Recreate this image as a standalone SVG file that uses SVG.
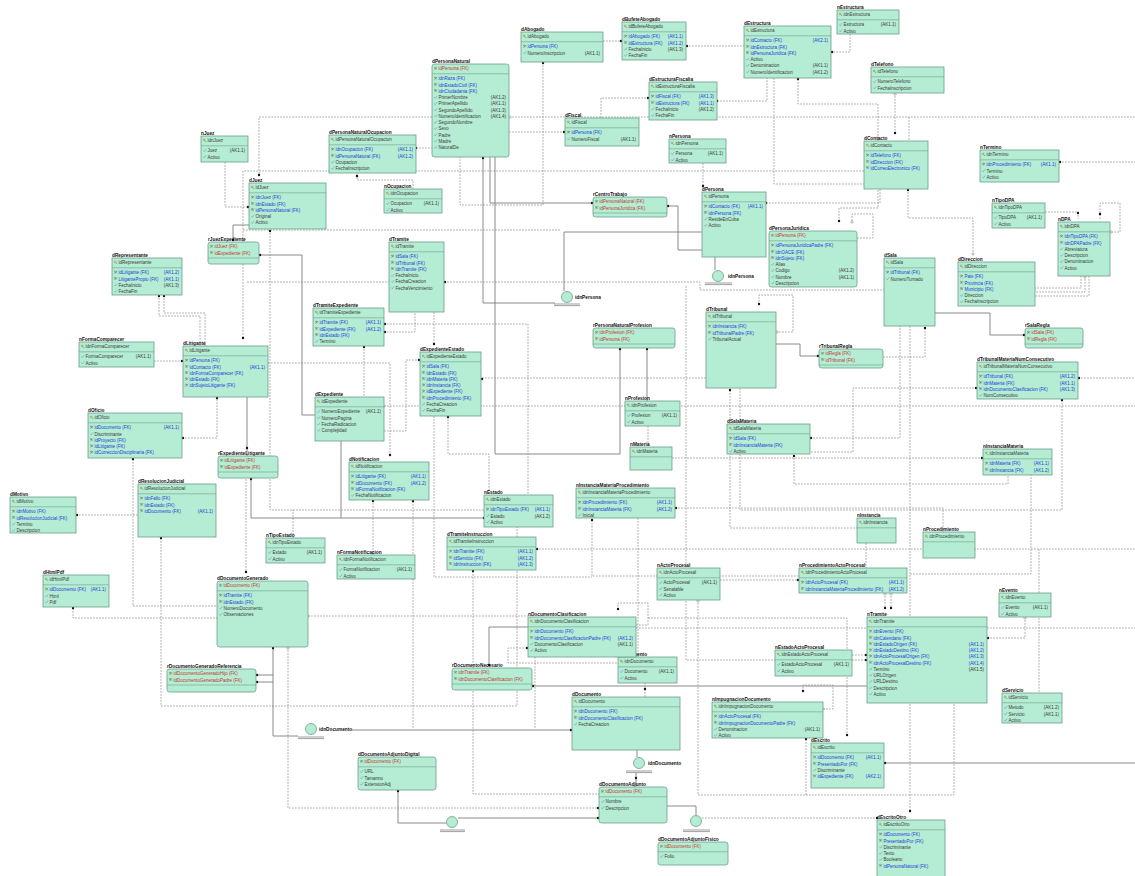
<svg xmlns="http://www.w3.org/2000/svg" xmlns:xlink="http://www.w3.org/1999/xlink" width="1135" height="876" viewBox="0 0 1135 876">
<style>
text{font-family:"Liberation Sans",Arial,sans-serif;font-size:4.5px;fill:#3b3b3b}
.l{font-weight:bold;font-size:4.75px;fill:#111}
.f{fill:#1c3fd6}
.r{fill:#c0392b}
.e{text-anchor:end}
.b{fill:#b5ecd4;stroke:#6c9f8b;stroke-width:.8}
.sp{stroke:#6c9f8b;stroke-width:.6;fill:none}
.c{fill:none;stroke:#8a8a8a;stroke-width:.7;stroke-dasharray:1.8 1.2}
.s{fill:none;stroke:#7d7d7d;stroke-width:.9}
.d{fill:#111}
.o{fill:#fff;stroke:#555;stroke-width:.4}
.bar{stroke:#777;stroke-width:.7}
</style>
<defs>
<g id="k" fill="none" stroke="#8c7d12" stroke-width=".5"><circle cx="1.1" cy="-2.6" r=".8"/><path d="M1.7-2l1.6 1.6M2.6-1.1l-.6.6"/></g>
<g id="f" fill="none" stroke-width=".5"><circle cx="1" cy="-2.7" r=".7" stroke="#7a7a2a"/><path d="M1.5-2.2l1.4 1.4" stroke="#7a7a2a"/><path d="M.5-.5l2.6-2.8" stroke="#555"/></g>
<g id="a"><path d="M.4-1.8l.9 1.2 1.9-2.6" fill="none" stroke="#5aa0d8" stroke-width=".6"/></g>
</defs>
<rect width="1135" height="876" fill="#fff"/>

<!-- relationship lines -->
<g id="connectors">
<path class="c" d="M603,41H621M686,46H744M850,34V52H831M543,62V205H460V157M432,117H259V175M509,117H1135M509,132H565M416,148H432M413,189V180H357V173M225,162V207H249M864,171H243V338M243,230H560M798,79V104H878V141M895,93V133M909,117V141M908,189V218H973V253M766,203H880V189M774,78V184H878V208H839V221M857,238H873V214H852V222M703,163V189M649,98H601V118M717,101H767V78M1059,162H1135M1045,212H1078V219M1100,219V203H1120V232H1110M1081,276V288H1035M1085,276V292H1035M1089,276V296H1035"/>
<path class="c" d="M159,295V316H200V346M164,295V313H205V346M154,361H183M268,363H390V455M182,438H217V398M270,230V510H484M293,538V510M384,332H415V312M384,324H528V495M364,346V397M434,312V344M384,431H406V360H420M384,406H1135M482,378H706M672,458H983M810,438H900V326M794,455V484H1008V475M730,390V528H857M1062,400V510H740V388M776,332H793V295H759V304M883,357H925V328M977,388H853V452H810M1078,378H1135M910,326V812M910,574H1031V475M675,508H943V532M592,520V576H799M434,416V577H592M720,580H799M638,518V657M686,286V660H775M648,426V447M536,549H1135M1039,549V693M636,628H1135M648,618H847V735M636,625H648V603H618V610M527,648H508V663H618M645,683V697M852,655H867M852,660H867M885,593V609M891,593V609M1025,617V638H987M823,709H833V685H803V692M698,600V795H954V703M806,795V739M702,818H877"/>
<path class="c" d="M373,500V553M448,416V454H489V495M246,479V572M308,616H528M161,538V706H517V527M413,501V729M473,571V794H599M288,647V808H599M73,608V618H217M133,459V606H217M76,515H138M444,282H700V290H884M247,282H389M535,657V729M866,543V568"/>
<path class="s" d="M490,157V203H593M483,157V303H555M495,157V454H620V348M564,291V232H702M667,206H678V250H702M715,257V270M249,225H233V240M259,255H302V415H315M247,397V456M341,441V518M251,479V518H484M647,349V401M776,344H800V356H819M935,313H990V335H1025M528,627H489V666M532,686H867M273,647V736H298M256,675H273M256,682H273M352,730H572M398,790V823H446M458,818H599M667,806H696V815M637,750V757M636,773V786M884,763H1135"/>
<g class="d">
<circle cx="621" cy="41" r="1.2"/><circle cx="687" cy="46" r="1.2"/><circle cx="832" cy="52" r="1.2"/><circle cx="543" cy="63" r="1.2"/><circle cx="259" cy="175" r="1.2"/><circle cx="564" cy="132" r="1.2"/><circle cx="416" cy="148" r="1.2"/><circle cx="357" cy="176" r="1.2"/><circle cx="248" cy="207" r="1.2"/><circle cx="243" cy="338" r="1.2"/><circle cx="798" cy="79" r="1.2"/><circle cx="895" cy="133" r="1.2"/><circle cx="908" cy="190" r="1.2"/><circle cx="766" cy="203" r="1.2"/><circle cx="839" cy="221" r="1.2"/><circle cx="703" cy="186" r="1.2"/><circle cx="648" cy="98" r="1.2"/><circle cx="717" cy="101" r="1.2"/><circle cx="1060" cy="162" r="1.2"/><circle cx="1078" cy="213" r="1.2"/><circle cx="1100" cy="214" r="1.2"/>
<circle cx="159" cy="296" r="1.2"/><circle cx="164" cy="296" r="1.2"/><circle cx="182" cy="361" r="1.2"/><circle cx="390" cy="455" r="1.2"/><circle cx="217" cy="398" r="1.2"/><circle cx="183" cy="438" r="1.2"/><circle cx="270" cy="231" r="1.2"/><circle cx="385" cy="332" r="1.2"/><circle cx="385" cy="324" r="1.2"/><circle cx="364" cy="347" r="1.2"/><circle cx="434" cy="344" r="1.2"/><circle cx="419" cy="360" r="1.2"/><circle cx="482" cy="379" r="1.2"/><circle cx="982" cy="458" r="1.2"/><circle cx="811" cy="438" r="1.2"/><circle cx="794" cy="456" r="1.2"/><circle cx="730" cy="390" r="1.2"/><circle cx="1062" cy="400" r="1.2"/><circle cx="759" cy="304" r="1.2"/><circle cx="925" cy="328" r="1.2"/><circle cx="976" cy="388" r="1.2"/><circle cx="1079" cy="378" r="1.2"/><circle cx="910" cy="811" r="1.2"/><circle cx="676" cy="508" r="1.2"/><circle cx="592" cy="520" r="1.2"/><circle cx="798" cy="580" r="1.2"/><circle cx="537" cy="549" r="1.2"/><circle cx="847" cy="735" r="1.2"/><circle cx="618" cy="609" r="1.2"/><circle cx="527" cy="648" r="1.2"/><circle cx="645" cy="689" r="1.2"/><circle cx="866" cy="655" r="1.2"/><circle cx="866" cy="660" r="1.2"/><circle cx="885" cy="608" r="1.2"/><circle cx="891" cy="608" r="1.2"/><circle cx="988" cy="638" r="1.2"/><circle cx="803" cy="691" r="1.2"/><circle cx="806" cy="739" r="1.2"/><circle cx="877" cy="818" r="1.2"/>
<circle cx="373" cy="501" r="1.2"/><circle cx="448" cy="417" r="1.2"/><circle cx="246" cy="572" r="1.2"/><circle cx="161" cy="538" r="1.2"/><circle cx="413" cy="501" r="1.2"/><circle cx="473" cy="571" r="1.2"/><circle cx="598" cy="808" r="1.2"/><circle cx="73" cy="608" r="1.2"/><circle cx="133" cy="459" r="1.2"/><circle cx="77" cy="515" r="1.2"/><circle cx="445" cy="282" r="1.2"/>
<circle cx="592" cy="203" r="1.2"/><circle cx="483" cy="158" r="1.2"/><circle cx="620" cy="349" r="1.2"/><circle cx="668" cy="206" r="1.2"/><circle cx="233" cy="240" r="1.2"/><circle cx="260" cy="255" r="1.2"/><circle cx="247" cy="448" r="1.2"/><circle cx="251" cy="479" r="1.2"/><circle cx="484" cy="518" r="1.2"/><circle cx="647" cy="349" r="1.2"/><circle cx="818" cy="356" r="1.2"/><circle cx="1024" cy="335" r="1.2"/><circle cx="489" cy="665" r="1.2"/><circle cx="533" cy="686" r="1.2"/><circle cx="273" cy="648" r="1.2"/><circle cx="257" cy="675" r="1.2"/><circle cx="257" cy="682" r="1.2"/><circle cx="571" cy="730" r="1.2"/><circle cx="398" cy="791" r="1.2"/><circle cx="598" cy="818" r="1.2"/><circle cx="636" cy="778" r="1.2"/><circle cx="885" cy="763" r="1.2"/>
</g>
<g class="o">
<circle cx="510" cy="117" r="1.2"/><circle cx="895" cy="94" r="1.2"/><circle cx="973" cy="254" r="1.2"/><circle cx="852" cy="222" r="1.2"/><circle cx="1111" cy="232" r="1.2"/><circle cx="1085" cy="277" r="1.2"/><circle cx="384" cy="406" r="1.2"/><circle cx="777" cy="332" r="1.2"/><circle cx="885" cy="594" r="1.2"/><circle cx="891" cy="594" r="1.2"/><circle cx="1025" cy="618" r="1.2"/><circle cx="823" cy="709" r="1.2"/><circle cx="698" cy="601" r="1.2"/><circle cx="373" cy="553" r="1.2"/><circle cx="308" cy="616" r="1.2"/><circle cx="288" cy="648" r="1.2"/>
</g>
</g>

<!-- subtype discriminators -->
<g id="subtypes">
<circle class="b" cx="567" cy="297" r="5.5"/><path class="bar" d="M554,304H580M554,305.6H580"/><text class="l" x="575" y="299">idnPersona</text>
<circle class="b" cx="718" cy="276" r="5.5"/><path class="bar" d="M705,283H732M705,284.6H732"/><text class="l" x="728" y="278">idnPersona</text>
<circle class="b" cx="311" cy="729" r="5.5"/><path class="bar" d="M298,737H324M298,738.6H324"/><text class="l" x="319" y="731">idnDocumento</text>
<circle class="b" cx="639" cy="763" r="5.5"/><path class="bar" d="M626,771H652M626,772.6H652"/><text class="l" x="648" y="765">idnDocumento</text>
<circle class="b" cx="452" cy="822" r="5.5"/><path class="bar" d="M440,830H465M440,831.6H465"/>
<circle class="b" cx="696" cy="821" r="5.5"/><path class="bar" d="M683,830H710M683,831.6H710"/>
</g>

<!-- entities -->
<g id="nJuez" transform="translate(201,136)"><text class="l" y="-1.5">nJuez</text><rect class="b" width="47" height="26"/><path class="sp" d="M0 9.8H47"/>
<use href="#k" x="2" y="6.4"/><text x="6.5" y="6.4">idnJuez</text>
<use href="#a" x="2" y="16.2"/><text x="6.5" y="16.2">Juez</text><text class="e" x="44" y="16.2">(AK1.1)</text>
<use href="#a" x="2" y="22.5"/><text x="6.5" y="22.5">Activo</text></g>

<g id="dJuez" transform="translate(249,183)"><text class="l" y="-1.5">dJuez</text><rect class="b" width="77" height="46"/><path class="sp" d="M0 9.8H77"/>
<use href="#k" x="2" y="6.4"/><text x="6.5" y="6.4">idJuez</text>
<use href="#f" x="2" y="16.2"/><text class="f" x="6.5" y="16.2">idnJuez (FK)</text>
<use href="#f" x="2" y="22.5"/><text class="f" x="6.5" y="22.5">idnEstado (FK)</text>
<use href="#f" x="2" y="28.7"/><text class="f" x="6.5" y="28.7">idPersonaNatural (FK)</text>
<use href="#a" x="2" y="35"/><text x="6.5" y="35">Original</text>
<use href="#a" x="2" y="41.2"/><text x="6.5" y="41.2">Activo</text></g>

<g id="rJuezExpediente" transform="translate(208,242)"><text class="l" y="-1.5">rJuezExpediente</text><rect class="b" width="51" height="22" rx="2.5"/><path class="sp" d="M0 16H51"/>
<use href="#f" x="2" y="6.4"/><text class="r" x="6.5" y="6.4">idJuez (FK)</text>
<use href="#f" x="2" y="12.6"/><text class="r" x="6.5" y="12.6">idExpediente (FK)</text></g>

<g id="dRepresentante" transform="translate(112,258)"><text class="l" y="-1.5">dRepresentante</text><rect class="b" width="70" height="37"/><path class="sp" d="M0 9.8H70"/>
<use href="#k" x="2" y="6.4"/><text x="6.5" y="6.4">idRepresentante</text>
<use href="#f" x="2" y="16.2"/><text class="f" x="6.5" y="16.2">idLitigante (FK)</text><text class="e f" x="67" y="16.2">(AK1.2)</text>
<use href="#f" x="2" y="22.5"/><text class="f" x="6.5" y="22.5">LitigantePropio (FK)</text><text class="e f" x="67" y="22.5">(AK1.1)</text>
<use href="#a" x="2" y="28.7"/><text x="6.5" y="28.7">FechaInicio</text><text class="e" x="67" y="28.7">(AK1.3)</text>
<use href="#a" x="2" y="35"/><text x="6.5" y="35">FechaFin</text></g>

<g id="dAbogado" transform="translate(521,32)"><text class="l" y="-1.5">dAbogado</text><rect class="b" width="82" height="30"/><path class="sp" d="M0 9.8H82"/>
<use href="#k" x="2" y="6.4"/><text x="6.5" y="6.4">idAbogado</text>
<use href="#f" x="2" y="16.2"/><text class="f" x="6.5" y="16.2">idPersona (FK)</text>
<use href="#a" x="2" y="22.5"/><text x="6.5" y="22.5">NumeroInscripcion</text><text class="e" x="79" y="22.5">(AK1.1)</text></g>

<g id="dPersonaNatural" transform="translate(432,64)"><text class="l" y="-1.5">dPersonaNatural</text><rect class="b" width="77" height="93" rx="2.5"/><path class="sp" d="M0 9.8H77"/>
<use href="#f" x="2" y="6.4"/><text class="r" x="6.5" y="6.4">idPersona (FK)</text>
<use href="#f" x="2" y="16.2"/><text class="f" x="6.5" y="16.2">idnRaza (FK)</text>
<use href="#f" x="2" y="22.5"/><text class="f" x="6.5" y="22.5">idnEstadoCivil (FK)</text>
<use href="#f" x="2" y="28.7"/><text class="f" x="6.5" y="28.7">idnCiudadania (FK)</text>
<use href="#a" x="2" y="35"/><text x="6.5" y="35">PrimerNombre</text><text class="e" x="74" y="35">(AK1.2)</text>
<use href="#a" x="2" y="41.2"/><text x="6.5" y="41.2">PrimerApellido</text><text class="e" x="74" y="41.2">(AK1.1)</text>
<use href="#a" x="2" y="47.5"/><text x="6.5" y="47.5">SegundoApellido</text><text class="e" x="74" y="47.5">(AK1.3)</text>
<use href="#a" x="2" y="53.7"/><text x="6.5" y="53.7">NumeroIdentificacion</text><text class="e" x="74" y="53.7">(AK1.4)</text>
<use href="#a" x="2" y="60"/><text x="6.5" y="60">SegundoNombre</text>
<use href="#a" x="2" y="66.2"/><text x="6.5" y="66.2">Sexo</text>
<use href="#a" x="2" y="72.5"/><text x="6.5" y="72.5">Padre</text>
<use href="#a" x="2" y="78.7"/><text x="6.5" y="78.7">Madre</text>
<use href="#a" x="2" y="85"/><text x="6.5" y="85">NaturalDe</text></g>

<g id="dPersonaNaturalOcupacion" transform="translate(329,135)"><text class="l" y="-1.5">dPersonaNaturalOcupacion</text><rect class="b" width="87" height="38"/><path class="sp" d="M0 9.8H87"/>
<use href="#k" x="2" y="6.4"/><text x="6.5" y="6.4">idPersonaNaturalOcupacion</text>
<use href="#f" x="2" y="16.2"/><text class="f" x="6.5" y="16.2">idnOcupacion (FK)</text><text class="e f" x="84" y="16.2">(AK1.1)</text>
<use href="#f" x="2" y="22.5"/><text class="f" x="6.5" y="22.5">idPersonaNatural (FK)</text><text class="e f" x="84" y="22.5">(AK1.2)</text>
<use href="#a" x="2" y="28.7"/><text x="6.5" y="28.7">Ocupacion</text>
<use href="#a" x="2" y="35"/><text x="6.5" y="35">FechaInscripcion</text></g>

<g id="nOcupacion" transform="translate(384,189)"><text class="l" y="-1.5">nOcupacion</text><rect class="b" width="58" height="24"/><path class="sp" d="M0 9.8H58"/>
<use href="#k" x="2" y="6.4"/><text x="6.5" y="6.4">idnOcupacion</text>
<use href="#a" x="2" y="16.2"/><text x="6.5" y="16.2">Ocupacion</text><text class="e" x="55" y="16.2">(AK1.1)</text>
<use href="#a" x="2" y="22.5"/><text x="6.5" y="22.5">Activo</text></g>

<g id="dTramite" transform="translate(389,242)"><text class="l" y="-1.5">dTramite</text><rect class="b" width="55" height="70"/><path class="sp" d="M0 9.8H55"/>
<use href="#k" x="2" y="6.4"/><text x="6.5" y="6.4">idTramite</text>
<use href="#f" x="2" y="16.2"/><text class="f" x="6.5" y="16.2">idSala (FK)</text>
<use href="#f" x="2" y="22.5"/><text class="f" x="6.5" y="22.5">idTribunal (FK)</text>
<use href="#f" x="2" y="28.7"/><text class="f" x="6.5" y="28.7">idnTramite (FK)</text>
<use href="#a" x="2" y="35"/><text x="6.5" y="35">FechaInicio</text>
<use href="#a" x="2" y="41.2"/><text x="6.5" y="41.2">FechaCreacion</text>
<use href="#a" x="2" y="47.5"/><text x="6.5" y="47.5">FechaVencimiento</text></g>

<g id="dBufeteAbogado" transform="translate(622,22)"><text class="l" y="-1.5">dBufeteAbogado</text><rect class="b" width="64" height="38"/><path class="sp" d="M0 9.8H64"/>
<use href="#k" x="2" y="6.4"/><text x="6.5" y="6.4">idBufeteAbogado</text>
<use href="#f" x="2" y="16.2"/><text class="f" x="6.5" y="16.2">idAbogado (FK)</text><text class="e f" x="61" y="16.2">(AK1.1)</text>
<use href="#f" x="2" y="22.5"/><text class="f" x="6.5" y="22.5">idEstructura (FK)</text><text class="e f" x="61" y="22.5">(AK1.2)</text>
<use href="#a" x="2" y="28.7"/><text x="6.5" y="28.7">FechaInicio</text><text class="e" x="61" y="28.7">(AK1.3)</text>
<use href="#a" x="2" y="35"/><text x="6.5" y="35">FechaFin</text></g>

<g id="dEstructura" transform="translate(744,26)"><text class="l" y="-1.5">dEstructura</text><rect class="b" width="87" height="52"/><path class="sp" d="M0 9.8H87"/>
<use href="#k" x="2" y="6.4"/><text x="6.5" y="6.4">idEstructura</text>
<use href="#f" x="2" y="16.2"/><text class="f" x="6.5" y="16.2">idContacto (FK)</text><text class="e f" x="84" y="16.2">(AK2.1)</text>
<use href="#f" x="2" y="22.5"/><text class="f" x="6.5" y="22.5">idnEstructura (FK)</text>
<use href="#f" x="2" y="28.7"/><text class="f" x="6.5" y="28.7">idPersonaJuridica (FK)</text>
<use href="#a" x="2" y="35"/><text x="6.5" y="35">Activo</text>
<use href="#a" x="2" y="41.2"/><text x="6.5" y="41.2">Denominacion</text><text class="e" x="84" y="41.2">(AK1.1)</text>
<use href="#a" x="2" y="47.5"/><text x="6.5" y="47.5">NumeroIdentificacion</text><text class="e" x="84" y="47.5">(AK1.2)</text></g>

<g id="nEstructura" transform="translate(837,10)"><text class="l" y="-1.5">nEstructura</text><rect class="b" width="62" height="24"/><path class="sp" d="M0 9.8H62"/>
<use href="#k" x="2" y="6.4"/><text x="6.5" y="6.4">idnEstructura</text>
<use href="#a" x="2" y="16.2"/><text x="6.5" y="16.2">Estructura</text><text class="e" x="59" y="16.2">(AK1.1)</text>
<use href="#a" x="2" y="22.5"/><text x="6.5" y="22.5">Activo</text></g>

<g id="dEstructuraFiscalia" transform="translate(649,82)"><text class="l" y="-1.5">dEstructuraFiscalia</text><rect class="b" width="68" height="38"/><path class="sp" d="M0 9.8H68"/>
<use href="#k" x="2" y="6.4"/><text x="6.5" y="6.4">idEstructuraFiscalia</text>
<use href="#f" x="2" y="16.2"/><text class="f" x="6.5" y="16.2">idFiscal (FK)</text><text class="e f" x="65" y="16.2">(AK1.3)</text>
<use href="#f" x="2" y="22.5"/><text class="f" x="6.5" y="22.5">idEstructura (FK)</text><text class="e f" x="65" y="22.5">(AK1.1)</text>
<use href="#a" x="2" y="28.7"/><text x="6.5" y="28.7">FechaInicio</text><text class="e" x="65" y="28.7">(AK1.2)</text>
<use href="#a" x="2" y="35"/><text x="6.5" y="35">FechaFin</text></g>

<g id="dFiscal" transform="translate(565,118)"><text class="l" y="-1.5">dFiscal</text><rect class="b" width="74" height="28"/><path class="sp" d="M0 9.8H74"/>
<use href="#k" x="2" y="6.4"/><text x="6.5" y="6.4">idFiscal</text>
<use href="#f" x="2" y="16.2"/><text class="f" x="6.5" y="16.2">idPersona (FK)</text>
<use href="#a" x="2" y="22.5"/><text x="6.5" y="22.5">NumeroFiscal</text><text class="e" x="71" y="22.5">(AK1.1)</text></g>

<g id="nPersona" transform="translate(669,139)"><text class="l" y="-1.5">nPersona</text><rect class="b" width="57" height="24"/><path class="sp" d="M0 9.8H57"/>
<use href="#k" x="2" y="6.4"/><text x="6.5" y="6.4">idnPersona</text>
<use href="#a" x="2" y="16.2"/><text x="6.5" y="16.2">Persona</text><text class="e" x="54" y="16.2">(AK1.1)</text>
<use href="#a" x="2" y="22.5"/><text x="6.5" y="22.5">Activo</text></g>

<g id="rCentroTrabajo" transform="translate(593,197)"><text class="l" y="-1.5">rCentroTrabajo</text><rect class="b" width="74" height="20" rx="2.5"/><path class="sp" d="M0 16H74"/>
<use href="#f" x="2" y="6.4"/><text class="r" x="6.5" y="6.4">idPersonaNatural (FK)</text>
<use href="#f" x="2" y="12.6"/><text class="r" x="6.5" y="12.6">idPersonaJuridica (FK)</text></g>

<g id="dPersona" transform="translate(702,192)"><text class="l" y="-1.5">dPersona</text><rect class="b" width="64" height="65"/><path class="sp" d="M0 9.8H64"/>
<use href="#k" x="2" y="6.4"/><text x="6.5" y="6.4">idPersona</text>
<use href="#f" x="2" y="16.2"/><text class="f" x="6.5" y="16.2">idContacto (FK)</text><text class="e f" x="61" y="16.2">(AK1.1)</text>
<use href="#f" x="2" y="22.5"/><text class="f" x="6.5" y="22.5">idnPersona (FK)</text>
<use href="#a" x="2" y="28.7"/><text x="6.5" y="28.7">ResideEnCuba</text>
<use href="#a" x="2" y="35"/><text x="6.5" y="35">Activo</text></g>

<g id="dPersonaJuridica" transform="translate(769,231)"><text class="l" y="-1.5">dPersonaJuridica</text><rect class="b" width="88" height="56" rx="2.5"/><path class="sp" d="M0 9.8H88"/>
<use href="#f" x="2" y="6.4"/><text class="r" x="6.5" y="6.4">idPersona (FK)</text>
<use href="#f" x="2" y="16.2"/><text class="f" x="6.5" y="16.2">idPersonaJuridicaPadre (FK)</text>
<use href="#f" x="2" y="22.5"/><text class="f" x="6.5" y="22.5">idnOACE (FK)</text>
<use href="#f" x="2" y="28.7"/><text class="f" x="6.5" y="28.7">idnSujeto (FK)</text>
<use href="#a" x="2" y="35"/><text x="6.5" y="35">Alias</text>
<use href="#a" x="2" y="41.2"/><text x="6.5" y="41.2">Codigo</text><text class="e" x="85" y="41.2">(AK1.2)</text>
<use href="#a" x="2" y="47.5"/><text x="6.5" y="47.5">Nombre</text><text class="e" x="85" y="47.5">(AK1.1)</text>
<use href="#a" x="2" y="53.7"/><text x="6.5" y="53.7">Descripcion</text></g>

<g id="dTelefono" transform="translate(871,67)"><text class="l" y="-1.5">dTelefono</text><rect class="b" width="73" height="26"/><path class="sp" d="M0 9.8H73"/>
<use href="#k" x="2" y="6.4"/><text x="6.5" y="6.4">idTelefono</text>
<use href="#a" x="2" y="16.2"/><text x="6.5" y="16.2">NumeroTelefono</text>
<use href="#a" x="2" y="22.5"/><text x="6.5" y="22.5">FechaInscripcion</text></g>

<g id="dContacto" transform="translate(864,141)"><text class="l" y="-1.5">dContacto</text><rect class="b" width="64" height="48"/><path class="sp" d="M0 9.8H64"/>
<use href="#k" x="2" y="6.4"/><text x="6.5" y="6.4">idContacto</text>
<use href="#f" x="2" y="16.2"/><text class="f" x="6.5" y="16.2">idTelefono (FK)</text>
<use href="#f" x="2" y="22.5"/><text class="f" x="6.5" y="22.5">idDireccion (FK)</text>
<use href="#f" x="2" y="28.7"/><text class="f" x="6.5" y="28.7">idCorreoElectronico (FK)</text></g>

<g id="nTermino" transform="translate(980,150)"><text class="l" y="-1.5">nTermino</text><rect class="b" width="79" height="32"/><path class="sp" d="M0 9.8H79"/>
<use href="#k" x="2" y="6.4"/><text x="6.5" y="6.4">idnTermino</text>
<use href="#f" x="2" y="16.2"/><text class="f" x="6.5" y="16.2">idnProcedimiento (FK)</text><text class="e f" x="76" y="16.2">(AK1.1)</text>
<use href="#a" x="2" y="22.5"/><text x="6.5" y="22.5">Termino</text>
<use href="#a" x="2" y="28.7"/><text x="6.5" y="28.7">Activo</text></g>

<g id="nTipoDPA" transform="translate(992,203)"><text class="l" y="-1.5">nTipoDPA</text><rect class="b" width="53" height="25"/><path class="sp" d="M0 9.8H53"/>
<use href="#k" x="2" y="6.4"/><text x="6.5" y="6.4">idnTipoDPA</text>
<use href="#a" x="2" y="16.2"/><text x="6.5" y="16.2">TipoDPA</text><text class="e" x="50" y="16.2">(AK1.1)</text>
<use href="#a" x="2" y="22.5"/><text x="6.5" y="22.5">Activo</text></g>

<g id="nDPA" transform="translate(1058,222)"><text class="l" y="-1.5">nDPA</text><rect class="b" width="52" height="54"/><path class="sp" d="M0 9.8H52"/>
<use href="#k" x="2" y="6.4"/><text x="6.5" y="6.4">idnDPA</text>
<use href="#f" x="2" y="16.2"/><text class="f" x="6.5" y="16.2">idnTipoDPA (FK)</text>
<use href="#f" x="2" y="22.5"/><text class="f" x="6.5" y="22.5">idnDPAPadre (FK)</text>
<use href="#a" x="2" y="28.7"/><text x="6.5" y="28.7">Abreviatura</text>
<use href="#a" x="2" y="35"/><text x="6.5" y="35">Descripcion</text>
<use href="#a" x="2" y="41.2"/><text x="6.5" y="41.2">Denominacion</text>
<use href="#a" x="2" y="47.5"/><text x="6.5" y="47.5">Activo</text></g>

<g id="dSala" transform="translate(884,258)"><text class="l" y="-1.5">dSala</text><rect class="b" width="51" height="68"/><path class="sp" d="M0 9.8H51"/>
<use href="#k" x="2" y="6.4"/><text x="6.5" y="6.4">idSala</text>
<use href="#f" x="2" y="16.2"/><text class="f" x="6.5" y="16.2">idTribunal (FK)</text>
<use href="#a" x="2" y="22.5"/><text x="6.5" y="22.5">NumeroTurnado</text></g>

<g id="dDireccion" transform="translate(958,262)"><text class="l" y="-1.5">dDireccion</text><rect class="b" width="77" height="44"/><path class="sp" d="M0 9.8H77"/>
<use href="#k" x="2" y="6.4"/><text x="6.5" y="6.4">idDireccion</text>
<use href="#f" x="2" y="16.2"/><text class="f" x="6.5" y="16.2">Pais (FK)</text>
<use href="#f" x="2" y="22.5"/><text class="f" x="6.5" y="22.5">Provincia (FK)</text>
<use href="#f" x="2" y="28.7"/><text class="f" x="6.5" y="28.7">Municipio (FK)</text>
<use href="#a" x="2" y="35"/><text x="6.5" y="35">Direccion</text>
<use href="#a" x="2" y="41.2"/><text x="6.5" y="41.2">FechaInscripcion</text></g>

<g id="nFormaComparecer" transform="translate(79,342)"><text class="l" y="-1.5">nFormaComparecer</text><rect class="b" width="75" height="25"/><path class="sp" d="M0 9.8H75"/>
<use href="#k" x="2" y="6.4"/><text x="6.5" y="6.4">idnFormaComparecer</text>
<use href="#a" x="2" y="16.2"/><text x="6.5" y="16.2">FormaComparecer</text><text class="e" x="72" y="16.2">(AK1.1)</text>
<use href="#a" x="2" y="22.5"/><text x="6.5" y="22.5">Activo</text></g>

<g id="dLitigante" transform="translate(183,346)"><text class="l" y="-1.5">dLitigante</text><rect class="b" width="85" height="51"/><path class="sp" d="M0 9.8H85"/>
<use href="#k" x="2" y="6.4"/><text x="6.5" y="6.4">idLitigante</text>
<use href="#f" x="2" y="16.2"/><text class="f" x="6.5" y="16.2">idPersona (FK)</text>
<use href="#f" x="2" y="22.5"/><text class="f" x="6.5" y="22.5">idContacto (FK)</text><text class="e f" x="82" y="22.5">(AK1.1)</text>
<use href="#f" x="2" y="28.7"/><text class="f" x="6.5" y="28.7">idnFormaComparecer (FK)</text>
<use href="#f" x="2" y="35"/><text class="f" x="6.5" y="35">idnEstado (FK)</text>
<use href="#f" x="2" y="41.2"/><text class="f" x="6.5" y="41.2">idnSujetoLitigante (FK)</text></g>

<g id="dOficio" transform="translate(88,413)"><text class="l" y="-1.5">dOficio</text><rect class="b" width="94" height="45"/><path class="sp" d="M0 9.8H94"/>
<use href="#k" x="2" y="6.4"/><text x="6.5" y="6.4">idOficio</text>
<use href="#f" x="2" y="16.2"/><text class="f" x="6.5" y="16.2">idDocumento (FK)</text><text class="e f" x="91" y="16.2">(AK1.1)</text>
<use href="#a" x="2" y="22.5"/><text x="6.5" y="22.5">Discriminante</text>
<use href="#f" x="2" y="28.7"/><text class="f" x="6.5" y="28.7">idProyecto (FK)</text>
<use href="#f" x="2" y="35"/><text class="f" x="6.5" y="35">idLitigante (FK)</text>
<use href="#f" x="2" y="41.2"/><text class="f" x="6.5" y="41.2">idCorreccionDisciplinaria (FK)</text></g>

<g id="rExpedienteLitigante" transform="translate(218,456)"><text class="l" y="-1.5">rExpedienteLitigante</text><rect class="b" width="60" height="22" rx="2.5"/><path class="sp" d="M0 16H60"/>
<use href="#f" x="2" y="6.4"/><text class="r" x="6.5" y="6.4">idLitigante (FK)</text>
<use href="#f" x="2" y="12.6"/><text class="r" x="6.5" y="12.6">idExpediente (FK)</text></g>

<g id="dResolucionJudicial" transform="translate(138,484)"><text class="l" y="-1.5">dResolucionJudicial</text><rect class="b" width="78" height="53"/><path class="sp" d="M0 9.8H78"/>
<use href="#k" x="2" y="6.4"/><text x="6.5" y="6.4">idResolucionJudicial</text>
<use href="#f" x="2" y="16.2"/><text class="f" x="6.5" y="16.2">idnFallo (FK)</text>
<use href="#f" x="2" y="22.5"/><text class="f" x="6.5" y="22.5">idnEstado (FK)</text>
<use href="#f" x="2" y="28.7"/><text class="f" x="6.5" y="28.7">idDocumento (FK)</text><text class="e f" x="75" y="28.7">(AK1.1)</text></g>

<g id="dMotivo" transform="translate(10,497)"><text class="l" y="-1.5">dMotivo</text><rect class="b" width="66" height="36"/><path class="sp" d="M0 9.8H66"/>
<use href="#k" x="2" y="6.4"/><text x="6.5" y="6.4">idMotivo</text>
<use href="#f" x="2" y="16.2"/><text class="f" x="6.5" y="16.2">idnMotivo (FK)</text>
<use href="#f" x="2" y="22.5"/><text class="f" x="6.5" y="22.5">idResolucionJudicial (FK)</text>
<use href="#a" x="2" y="28.7"/><text x="6.5" y="28.7">Termino</text>
<use href="#a" x="2" y="35"/><text x="6.5" y="35">Descripcion</text></g>

<g id="nTipoEstado" transform="translate(266,538)"><text class="l" y="-1.5">nTipoEstado</text><rect class="b" width="59" height="25"/><path class="sp" d="M0 9.8H59"/>
<use href="#k" x="2" y="6.4"/><text x="6.5" y="6.4">idnTipoEstado</text>
<use href="#a" x="2" y="16.2"/><text x="6.5" y="16.2">Estado</text><text class="e" x="56" y="16.2">(AK1.1)</text>
<use href="#a" x="2" y="22.5"/><text x="6.5" y="22.5">Activo</text></g>

<g id="dHtmlPdf" transform="translate(43,575)"><text class="l" y="-1.5">dHtmlPdf</text><rect class="b" width="66" height="32"/><path class="sp" d="M0 9.8H66"/>
<use href="#k" x="2" y="6.4"/><text x="6.5" y="6.4">idHtmlPdf</text>
<use href="#f" x="2" y="16.2"/><text class="f" x="6.5" y="16.2">idDocumento (FK)</text><text class="e f" x="63" y="16.2">(AK1.1)</text>
<use href="#a" x="2" y="22.5"/><text x="6.5" y="22.5">Html</text>
<use href="#a" x="2" y="28.7"/><text x="6.5" y="28.7">Pdf</text></g>

<g id="dDocumentoGenerado" transform="translate(217,581)"><text class="l" y="-1.5">dDocumentoGenerado</text><rect class="b" width="91" height="66" rx="2.5"/><path class="sp" d="M0 9.8H91"/>
<use href="#f" x="2" y="6.4"/><text class="r" x="6.5" y="6.4">idDocumento (FK)</text>
<use href="#f" x="2" y="16.2"/><text class="f" x="6.5" y="16.2">idTramite (FK)</text>
<use href="#f" x="2" y="22.5"/><text class="f" x="6.5" y="22.5">idnEstado (FK)</text>
<use href="#a" x="2" y="28.7"/><text x="6.5" y="28.7">NumeroDocumento</text>
<use href="#a" x="2" y="35"/><text x="6.5" y="35">Observaciones</text></g>

<g id="dTramiteExpediente" transform="translate(313,308)"><text class="l" y="-1.5">dTramiteExpediente</text><rect class="b" width="71" height="38"/><path class="sp" d="M0 9.8H71"/>
<use href="#k" x="2" y="6.4"/><text x="6.5" y="6.4">idTramiteExpediente</text>
<use href="#f" x="2" y="16.2"/><text class="f" x="6.5" y="16.2">idTramite (FK)</text><text class="e f" x="68" y="16.2">(AK1.1)</text>
<use href="#f" x="2" y="22.5"/><text class="f" x="6.5" y="22.5">idExpediente (FK)</text><text class="e f" x="68" y="22.5">(AK1.2)</text>
<use href="#f" x="2" y="28.7"/><text class="f" x="6.5" y="28.7">idnEstado (FK)</text>
<use href="#a" x="2" y="35"/><text x="6.5" y="35">Termino</text></g>

<g id="dExpedienteEstado" transform="translate(420,352)"><text class="l" y="-1.5">dExpedienteEstado</text><rect class="b" width="61" height="64"/><path class="sp" d="M0 9.8H61"/>
<use href="#k" x="2" y="6.4"/><text x="6.5" y="6.4">idExpedienteEstado</text>
<use href="#f" x="2" y="16.2"/><text class="f" x="6.5" y="16.2">idSala (FK)</text>
<use href="#f" x="2" y="22.5"/><text class="f" x="6.5" y="22.5">idnEstado (FK)</text>
<use href="#f" x="2" y="28.7"/><text class="f" x="6.5" y="28.7">idnMateria (FK)</text>
<use href="#f" x="2" y="35"/><text class="f" x="6.5" y="35">idnInstancia (FK)</text>
<use href="#f" x="2" y="41.2"/><text class="f" x="6.5" y="41.2">idExpediente (FK)</text>
<use href="#f" x="2" y="47.5"/><text class="f" x="6.5" y="47.5">idnProcedimiento (FK)</text>
<use href="#a" x="2" y="53.7"/><text x="6.5" y="53.7">FechaCreacion</text>
<use href="#a" x="2" y="60"/><text x="6.5" y="60">FechaFin</text></g>

<g id="dExpediente" transform="translate(315,397)"><text class="l" y="-1.5">dExpediente</text><rect class="b" width="69" height="44"/><path class="sp" d="M0 9.8H69"/>
<use href="#k" x="2" y="6.4"/><text x="6.5" y="6.4">idExpediente</text>
<use href="#a" x="2" y="16.2"/><text x="6.5" y="16.2">NumeroExpediente</text><text class="e" x="66" y="16.2">(AK1.1)</text>
<use href="#a" x="2" y="22.5"/><text x="6.5" y="22.5">NumeroPagina</text>
<use href="#a" x="2" y="28.7"/><text x="6.5" y="28.7">FechaRadicacion</text>
<use href="#a" x="2" y="35"/><text x="6.5" y="35">Complejidad</text></g>

<g id="dNotificacion" transform="translate(349,462)"><text class="l" y="-1.5">dNotificacion</text><rect class="b" width="80" height="38"/><path class="sp" d="M0 9.8H80"/>
<use href="#k" x="2" y="6.4"/><text x="6.5" y="6.4">idNotificacion</text>
<use href="#f" x="2" y="16.2"/><text class="f" x="6.5" y="16.2">idLitigante (FK)</text><text class="e f" x="77" y="16.2">(AK1.1)</text>
<use href="#f" x="2" y="22.5"/><text class="f" x="6.5" y="22.5">idDocumento (FK)</text><text class="e f" x="77" y="22.5">(AK1.2)</text>
<use href="#f" x="2" y="28.7"/><text class="f" x="6.5" y="28.7">idFormaNotificacion (FK)</text>
<use href="#a" x="2" y="35"/><text x="6.5" y="35">FechaNotificacion</text></g>

<g id="nEstado" transform="translate(484,495)"><text class="l" y="-1.5">nEstado</text><rect class="b" width="69" height="32"/><path class="sp" d="M0 9.8H69"/>
<use href="#k" x="2" y="6.4"/><text x="6.5" y="6.4">idnEstado</text>
<use href="#f" x="2" y="16.2"/><text class="f" x="6.5" y="16.2">idnTipoEstado (FK)</text><text class="e f" x="66" y="16.2">(AK1.1)</text>
<use href="#a" x="2" y="22.5"/><text x="6.5" y="22.5">Estado</text><text class="e" x="66" y="22.5">(AK1.2)</text>
<use href="#a" x="2" y="28.7"/><text x="6.5" y="28.7">Activo</text></g>

<g id="nFormaNotificacion" transform="translate(337,555)"><text class="l" y="-1.5">nFormaNotificacion</text><rect class="b" width="78" height="24"/><path class="sp" d="M0 9.8H78"/>
<use href="#k" x="2" y="6.4"/><text x="6.5" y="6.4">idnFormaNotificacion</text>
<use href="#a" x="2" y="16.2"/><text x="6.5" y="16.2">FormaNotificacion</text><text class="e" x="75" y="16.2">(AK1.1)</text>
<use href="#a" x="2" y="22.5"/><text x="6.5" y="22.5">Activo</text></g>

<g id="dTramiteInstruccion" transform="translate(447,537)"><text class="l" y="-1.5">dTramiteInstruccion</text><rect class="b" width="89" height="33"/><path class="sp" d="M0 9.8H89"/>
<use href="#k" x="2" y="6.4"/><text x="6.5" y="6.4">idTramiteInstruccion</text>
<use href="#f" x="2" y="16.2"/><text class="f" x="6.5" y="16.2">idnTramite (FK)</text><text class="e f" x="86" y="16.2">(AK1.1)</text>
<use href="#f" x="2" y="22.5"/><text class="f" x="6.5" y="22.5">idServicio (FK)</text><text class="e f" x="86" y="22.5">(AK1.2)</text>
<use href="#f" x="2" y="28.7"/><text class="f" x="6.5" y="28.7">idnInstruccion (FK)</text><text class="e f" x="86" y="28.7">(AK1.3)</text></g>

<g id="rDocumentoGeneradoReferencia" transform="translate(167,669)"><text class="l" y="-1.5">rDocumentoGeneradoReferencia</text><rect class="b" width="89" height="23" rx="2.5"/><path class="sp" d="M0 16H89"/>
<use href="#f" x="2" y="6.4"/><text class="r" x="6.5" y="6.4">idDocumentoGeneradoHijo (FK)</text>
<use href="#f" x="2" y="12.6"/><text class="r" x="6.5" y="12.6">idDocumentoGeneradoPadre (FK)</text></g>

<g id="nDocumento" transform="translate(618,657)"><text class="l" y="-1.5">nDocumento</text><rect class="b" width="59" height="26"/><path class="sp" d="M0 9.8H59"/>
<use href="#k" x="2" y="6.4"/><text x="6.5" y="6.4">idnDocumento</text>
<use href="#a" x="2" y="16.2"/><text x="6.5" y="16.2">Documento</text><text class="e" x="56" y="16.2">(AK1.1)</text>
<use href="#a" x="2" y="22.5"/><text x="6.5" y="22.5">Activo</text></g>

<g id="nDocumentoClasificacion" transform="translate(528,617)"><text class="l" y="-1.5">nDocumentoClasificacion</text><rect class="b" width="108" height="40"/><path class="sp" d="M0 9.8H108"/>
<use href="#k" x="2" y="6.4"/><text x="6.5" y="6.4">idnDocumentoClasificacion</text>
<use href="#f" x="2" y="16.2"/><text class="f" x="6.5" y="16.2">idnDocumento (FK)</text>
<use href="#f" x="2" y="22.5"/><text class="f" x="6.5" y="22.5">idnDocumentoClasificacionPadre (FK)</text><text class="e f" x="105" y="22.5">(AK1.2)</text>
<use href="#a" x="2" y="28.7"/><text x="6.5" y="28.7">DocumentoClasificacion</text><text class="e" x="105" y="28.7">(AK1.1)</text>
<use href="#a" x="2" y="35"/><text x="6.5" y="35">Activo</text></g>

<g id="rDocumentoNecesario" transform="translate(452,668)"><text class="l" y="-1.5">rDocumentoNecesario</text><rect class="b" width="80" height="22" rx="2.5"/><path class="sp" d="M0 16H80"/>
<use href="#f" x="2" y="6.4"/><text class="r" x="6.5" y="6.4">idnTramite (FK)</text>
<use href="#f" x="2" y="12.6"/><text class="r" x="6.5" y="12.6">idnDocumentoClasificacion (FK)</text></g>

<g id="dDocumento" transform="translate(572,697)"><text class="l" y="-1.5">dDocumento</text><rect class="b" width="108" height="53"/><path class="sp" d="M0 9.8H108"/>
<use href="#k" x="2" y="6.4"/><text x="6.5" y="6.4">idDocumento</text>
<use href="#f" x="2" y="16.2"/><text class="f" x="6.5" y="16.2">idnDocumento (FK)</text>
<use href="#f" x="2" y="22.5"/><text class="f" x="6.5" y="22.5">idnDocumentoClasificacion (FK)</text>
<use href="#a" x="2" y="28.7"/><text x="6.5" y="28.7">FechaCreacion</text></g>

<g id="dDocumentoAdjuntoDigital" transform="translate(358,757)"><text class="l" y="-1.5">dDocumentoAdjuntoDigital</text><rect class="b" width="78" height="33" rx="2.5"/><path class="sp" d="M0 9.8H78"/>
<use href="#f" x="2" y="6.4"/><text class="r" x="6.5" y="6.4">idDocumento (FK)</text>
<use href="#a" x="2" y="16.2"/><text x="6.5" y="16.2">URL</text>
<use href="#a" x="2" y="22.5"/><text x="6.5" y="22.5">Tamanno</text>
<use href="#a" x="2" y="28.7"/><text x="6.5" y="28.7">ExtensionAdj</text></g>

<g id="dDocumentoAdjunto" transform="translate(599,787)"><text class="l" y="-1.5">dDocumentoAdjunto</text><rect class="b" width="68" height="36" rx="2.5"/><path class="sp" d="M0 9.8H68"/>
<use href="#f" x="2" y="6.4"/><text class="r" x="6.5" y="6.4">idDocumento (FK)</text>
<use href="#a" x="2" y="16.2"/><text x="6.5" y="16.2">Nombre</text>
<use href="#a" x="2" y="22.5"/><text x="6.5" y="22.5">Descripcion</text></g>

<g id="dDocumentoAdjuntoFisico" transform="translate(658,842)"><text class="l" y="-1.5">dDocumentoAdjuntoFisico</text><rect class="b" width="70" height="23" rx="2.5"/><path class="sp" d="M0 9.8H70"/>
<use href="#f" x="2" y="6.4"/><text class="r" x="6.5" y="6.4">idDocumento (FK)</text>
<use href="#a" x="2" y="16.2"/><text x="6.5" y="16.2">Folio</text></g>

<g id="rPersonaNaturalProfesion" transform="translate(593,328)"><text class="l" y="-1.5">rPersonaNaturalProfesion</text><rect class="b" width="82" height="20" rx="2.5"/><path class="sp" d="M0 16H82"/>
<use href="#f" x="2" y="6.4"/><text class="r" x="6.5" y="6.4">idnProfesion (FK)</text>
<use href="#f" x="2" y="12.6"/><text class="r" x="6.5" y="12.6">idPersona (FK)</text></g>

<g id="dTribunal" transform="translate(706,312)"><text class="l" y="-1.5">dTribunal</text><rect class="b" width="70" height="76"/><path class="sp" d="M0 9.8H70"/>
<use href="#k" x="2" y="6.4"/><text x="6.5" y="6.4">idTribunal</text>
<use href="#f" x="2" y="16.2"/><text class="f" x="6.5" y="16.2">idnInstancia (FK)</text>
<use href="#f" x="2" y="22.5"/><text class="f" x="6.5" y="22.5">idTribunalPadre (FK)</text>
<use href="#a" x="2" y="28.7"/><text x="6.5" y="28.7">TribunalActual</text></g>

<g id="rTribunalRegla" transform="translate(819,349)"><text class="l" y="-1.5">rTribunalRegla</text><rect class="b" width="64" height="19" rx="2.5"/><path class="sp" d="M0 16H64"/>
<use href="#f" x="2" y="6.4"/><text class="r" x="6.5" y="6.4">idRegla (FK)</text>
<use href="#f" x="2" y="12.6"/><text class="r" x="6.5" y="12.6">idTribunal (FK)</text></g>

<g id="nProfesion" transform="translate(625,401)"><text class="l" y="-1.5">nProfesion</text><rect class="b" width="55" height="25"/><path class="sp" d="M0 9.8H55"/>
<use href="#k" x="2" y="6.4"/><text x="6.5" y="6.4">idnProfesion</text>
<use href="#a" x="2" y="16.2"/><text x="6.5" y="16.2">Profesion</text><text class="e" x="52" y="16.2">(AK1.1)</text>
<use href="#a" x="2" y="22.5"/><text x="6.5" y="22.5">Activo</text></g>

<g id="dSalaMateria" transform="translate(727,424)"><text class="l" y="-1.5">dSalaMateria</text><rect class="b" width="83" height="30"/><path class="sp" d="M0 9.8H83"/>
<use href="#k" x="2" y="6.4"/><text x="6.5" y="6.4">idSalaMateria</text>
<use href="#f" x="2" y="16.2"/><text class="f" x="6.5" y="16.2">idSala (FK)</text>
<use href="#f" x="2" y="22.5"/><text class="f" x="6.5" y="22.5">idnInstanciaMateria (FK)</text>
<use href="#a" x="2" y="28.7"/><text x="6.5" y="28.7">Activo</text></g>

<g id="nMateria" transform="translate(630,447)"><text class="l" y="-1.5">nMateria</text><rect class="b" width="42" height="23"/><path class="sp" d="M0 9.8H42"/>
<use href="#k" x="2" y="6.4"/><text x="6.5" y="6.4">idnMateria</text></g>

<g id="nInstanciaMateriaProcedimiento" transform="translate(576,488)"><text class="l" y="-1.5">nInstanciaMateriaProcedimiento</text><rect class="b" width="99" height="30"/><path class="sp" d="M0 9.8H99"/>
<use href="#k" x="2" y="6.4"/><text x="6.5" y="6.4">idnInstanciaMateriaProcedimiento</text>
<use href="#f" x="2" y="16.2"/><text class="f" x="6.5" y="16.2">idnProcedimiento (FK)</text><text class="e f" x="96" y="16.2">(AK1.1)</text>
<use href="#f" x="2" y="22.5"/><text class="f" x="6.5" y="22.5">idnInstanciaMateria (FK)</text><text class="e f" x="96" y="22.5">(AK1.2)</text>
<use href="#a" x="2" y="28.7"/><text x="6.5" y="28.7">Inicial</text></g>

<g id="nActoProcesal" transform="translate(657,568)"><text class="l" y="-1.5">nActoProcesal</text><rect class="b" width="63" height="32"/><path class="sp" d="M0 9.8H63"/>
<use href="#k" x="2" y="6.4"/><text x="6.5" y="6.4">idnActoProcesal</text>
<use href="#a" x="2" y="16.2"/><text x="6.5" y="16.2">ActoProcesal</text><text class="e" x="60" y="16.2">(AK1.1)</text>
<use href="#a" x="2" y="22.5"/><text x="6.5" y="22.5">Senalable</text>
<use href="#a" x="2" y="28.7"/><text x="6.5" y="28.7">Activo</text></g>

<g id="nProcedimientoActoProcesal" transform="translate(799,568)"><text class="l" y="-1.5">nProcedimientoActoProcesal</text><rect class="b" width="108" height="25"/><path class="sp" d="M0 9.8H108"/>
<use href="#k" x="2" y="6.4"/><text x="6.5" y="6.4">idnProcedimientoActoProcesal</text>
<use href="#f" x="2" y="16.2"/><text class="f" x="6.5" y="16.2">idnActoProcesal (FK)</text><text class="e f" x="105" y="16.2">(AK1.1)</text>
<use href="#f" x="2" y="22.5"/><text class="f" x="6.5" y="22.5">idnInstanciaMateriaProcedimiento (FK)</text><text class="e f" x="105" y="22.5">(AK1.2)</text></g>

<g id="rSalaRegla" transform="translate(1025,328)"><text class="l" y="-1.5">rSalaRegla</text><rect class="b" width="58" height="20" rx="2.5"/><path class="sp" d="M0 16H58"/>
<use href="#f" x="2" y="6.4"/><text class="r" x="6.5" y="6.4">idSala (FK)</text>
<use href="#f" x="2" y="12.6"/><text class="r" x="6.5" y="12.6">idRegla (FK)</text></g>

<g id="dTribunalMateriaNumConsecutivo" transform="translate(977,362)"><text class="l" y="-1.5">dTribunalMateriaNumConsecutivo</text><rect class="b" width="101" height="37"/><path class="sp" d="M0 9.8H101"/>
<use href="#k" x="2" y="6.4"/><text x="6.5" y="6.4">idTribunalMateriaNumConsecutivo</text>
<use href="#f" x="2" y="16.2"/><text class="f" x="6.5" y="16.2">idTribunal (FK)</text><text class="e f" x="98" y="16.2">(AK1.2)</text>
<use href="#f" x="2" y="22.5"/><text class="f" x="6.5" y="22.5">idnMateria (FK)</text><text class="e f" x="98" y="22.5">(AK1.1)</text>
<use href="#f" x="2" y="28.7"/><text class="f" x="6.5" y="28.7">idnDocumentoClasificacion (FK)</text><text class="e f" x="98" y="28.7">(AK1.3)</text>
<use href="#a" x="2" y="35"/><text x="6.5" y="35">NumConsecutivo</text></g>

<g id="nInstanciaMateria" transform="translate(983,449)"><text class="l" y="-1.5">nInstanciaMateria</text><rect class="b" width="69" height="26"/><path class="sp" d="M0 9.8H69"/>
<use href="#k" x="2" y="6.4"/><text x="6.5" y="6.4">idnInstanciaMateria</text>
<use href="#f" x="2" y="16.2"/><text class="f" x="6.5" y="16.2">idnMateria (FK)</text><text class="e f" x="66" y="16.2">(AK1.1)</text>
<use href="#f" x="2" y="22.5"/><text class="f" x="6.5" y="22.5">idnInstancia (FK)</text><text class="e f" x="66" y="22.5">(AK1.2)</text></g>

<g id="nInstancia" transform="translate(857,518)"><text class="l" y="-1.5">nInstancia</text><rect class="b" width="39" height="25"/><path class="sp" d="M0 9.8H39"/>
<use href="#k" x="2" y="6.4"/><text x="6.5" y="6.4">idnInstancia</text></g>

<g id="nProcedimiento" transform="translate(923,532)"><text class="l" y="-1.5">nProcedimiento</text><rect class="b" width="52" height="26"/><path class="sp" d="M0 9.8H52"/>
<use href="#k" x="2" y="6.4"/><text x="6.5" y="6.4">idnProcedimiento</text></g>

<g id="nEstadoActoProcesal" transform="translate(775,650)"><text class="l" y="-1.5">nEstadoActoProcesal</text><rect class="b" width="77" height="26"/><path class="sp" d="M0 9.8H77"/>
<use href="#k" x="2" y="6.4"/><text x="6.5" y="6.4">idnEstadoActoProcesal</text>
<use href="#a" x="2" y="16.2"/><text x="6.5" y="16.2">EstadoActoProcesal</text><text class="e" x="74" y="16.2">(AK1.1)</text>
<use href="#a" x="2" y="22.5"/><text x="6.5" y="22.5">Activo</text></g>

<g id="nImpugnacionDocumento" transform="translate(712,702)"><text class="l" y="-1.5">nImpugnacionDocumento</text><rect class="b" width="111" height="36"/><path class="sp" d="M0 9.8H111"/>
<use href="#k" x="2" y="6.4"/><text x="6.5" y="6.4">idnImpugnacionDocumento</text>
<use href="#f" x="2" y="16.2"/><text class="f" x="6.5" y="16.2">idnActoProcesal (FK)</text>
<use href="#f" x="2" y="22.5"/><text class="f" x="6.5" y="22.5">idnImpugnacionDocumentoPadre (FK)</text>
<use href="#a" x="2" y="28.7"/><text x="6.5" y="28.7">Denominacion</text><text class="e" x="108" y="28.7">(AK1.1)</text>
<use href="#a" x="2" y="35"/><text x="6.5" y="35">Activo</text></g>

<g id="dEscrito" transform="translate(811,743)"><text class="l" y="-1.5">dEscrito</text><rect class="b" width="73" height="45"/><path class="sp" d="M0 9.8H73"/>
<use href="#k" x="2" y="6.4"/><text x="6.5" y="6.4">idEscrito</text>
<use href="#f" x="2" y="16.2"/><text class="f" x="6.5" y="16.2">idDocumento (FK)</text><text class="e f" x="70" y="16.2">(AK1.1)</text>
<use href="#f" x="2" y="22.5"/><text class="f" x="6.5" y="22.5">PresentadoPor (FK)</text>
<use href="#a" x="2" y="28.7"/><text x="6.5" y="28.7">Discriminante</text>
<use href="#f" x="2" y="35"/><text class="f" x="6.5" y="35">idExpediente (FK)</text><text class="e f" x="70" y="35">(AK2.1)</text></g>

<g id="nEvento" transform="translate(999,593)"><text class="l" y="-1.5">nEvento</text><rect class="b" width="52" height="24"/><path class="sp" d="M0 9.8H52"/>
<use href="#k" x="2" y="6.4"/><text x="6.5" y="6.4">idnEvento</text>
<use href="#a" x="2" y="16.2"/><text x="6.5" y="16.2">Evento</text><text class="e" x="49" y="16.2">(AK1.1)</text>
<use href="#a" x="2" y="22.5"/><text x="6.5" y="22.5">Activo</text></g>

<g id="nTramite" transform="translate(867,617)"><text class="l" y="-1.5">nTramite</text><rect class="b" width="120" height="86"/><path class="sp" d="M0 9.8H120"/>
<use href="#k" x="2" y="6.4"/><text x="6.5" y="6.4">idnTramite</text>
<use href="#f" x="2" y="16.2"/><text class="f" x="6.5" y="16.2">idnEvento (FK)</text>
<use href="#f" x="2" y="22.5"/><text class="f" x="6.5" y="22.5">idnCalendario (FK)</text>
<use href="#f" x="2" y="28.7"/><text class="f" x="6.5" y="28.7">idnEstadoOrigen (FK)</text><text class="e f" x="117" y="28.7">(AK1.1)</text>
<use href="#f" x="2" y="35"/><text class="f" x="6.5" y="35">idnEstadoDestino (FK)</text><text class="e f" x="117" y="35">(AK1.2)</text>
<use href="#f" x="2" y="41.2"/><text class="f" x="6.5" y="41.2">idnActoProcesalOrigen (FK)</text><text class="e f" x="117" y="41.2">(AK1.3)</text>
<use href="#f" x="2" y="47.5"/><text class="f" x="6.5" y="47.5">idnActoProcesalDestino (FK)</text><text class="e f" x="117" y="47.5">(AK1.4)</text>
<use href="#a" x="2" y="53.7"/><text x="6.5" y="53.7">Termino</text><text class="e" x="117" y="53.7">(AK1.5)</text>
<use href="#a" x="2" y="60"/><text x="6.5" y="60">URLOrigen</text>
<use href="#a" x="2" y="66.2"/><text x="6.5" y="66.2">URLDestino</text>
<use href="#a" x="2" y="72.5"/><text x="6.5" y="72.5">Descripcion</text>
<use href="#a" x="2" y="78.7"/><text x="6.5" y="78.7">Activo</text></g>

<g id="dServicio" transform="translate(1002,693)"><text class="l" y="-1.5">dServicio</text><rect class="b" width="60" height="30"/><path class="sp" d="M0 9.8H60"/>
<use href="#k" x="2" y="6.4"/><text x="6.5" y="6.4">idServicio</text>
<use href="#a" x="2" y="16.2"/><text x="6.5" y="16.2">Metodo</text><text class="e" x="57" y="16.2">(AK1.2)</text>
<use href="#a" x="2" y="22.5"/><text x="6.5" y="22.5">Servicio</text><text class="e" x="57" y="22.5">(AK1.1)</text>
<use href="#a" x="2" y="28.7"/><text x="6.5" y="28.7">Activo</text></g>

<g id="dEscritoOtro" transform="translate(877,820)"><text class="l" y="-1.5">dEscritoOtro</text><rect class="b" width="68" height="60"/><path class="sp" d="M0 9.8H68"/>
<use href="#k" x="2" y="6.4"/><text x="6.5" y="6.4">idEscritoOtro</text>
<use href="#f" x="2" y="16.2"/><text class="f" x="6.5" y="16.2">idDocumento (FK)</text>
<use href="#f" x="2" y="22.5"/><text class="f" x="6.5" y="22.5">PresentadoPor (FK)</text>
<use href="#a" x="2" y="28.7"/><text x="6.5" y="28.7">Discriminante</text>
<use href="#a" x="2" y="35"/><text x="6.5" y="35">Texto</text>
<use href="#a" x="2" y="41.2"/><text x="6.5" y="41.2">Booleano</text>
<use href="#f" x="2" y="47.5"/><text class="f" x="6.5" y="47.5">idPersonaNatural (FK)</text></g>
</svg>
